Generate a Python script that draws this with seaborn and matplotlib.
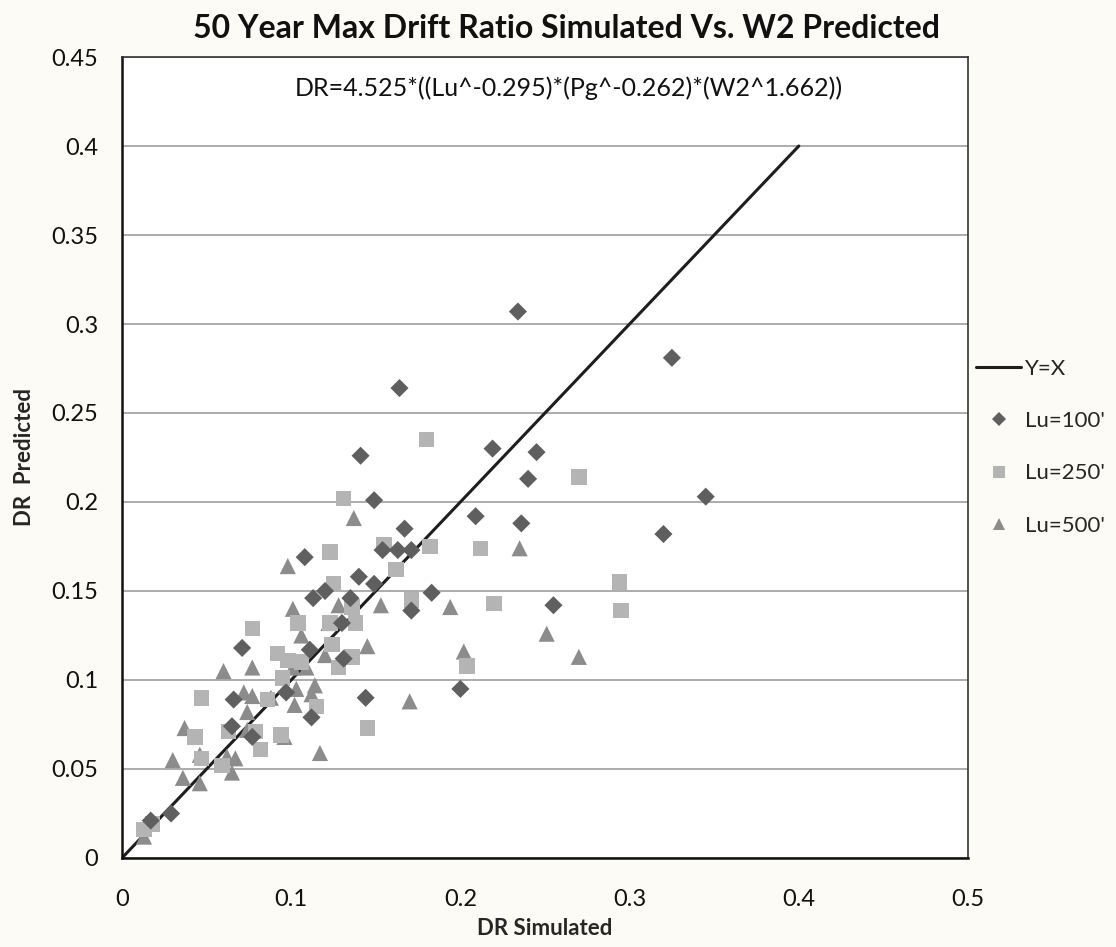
import matplotlib
matplotlib.use("Agg")
import matplotlib.pyplot as plt
import seaborn as sns
import pandas as pd
import numpy as np
from matplotlib.lines import Line2D

# ---------------- data ----------------
lu100_x = [0.164, 0.234, 0.325, 0.141, 0.219, 0.245, 0.240, 0.345, 0.149, 0.209,
           0.236, 0.320, 0.167, 0.154, 0.163, 0.171, 0.108, 0.140, 0.149, 0.120,
           0.113, 0.135, 0.183, 0.171, 0.255, 0.130, 0.111, 0.131, 0.071, 0.097,
           0.066, 0.112, 0.144, 0.200, 0.065, 0.077, 0.029, 0.017]
lu100_y = [0.264, 0.307, 0.281, 0.226, 0.230, 0.228, 0.213, 0.203, 0.201, 0.192,
           0.188, 0.182, 0.185, 0.173, 0.173, 0.173, 0.169, 0.158, 0.154, 0.150,
           0.146, 0.146, 0.149, 0.139, 0.142, 0.132, 0.117, 0.112, 0.118, 0.093,
           0.089, 0.079, 0.090, 0.095, 0.074, 0.068, 0.025, 0.021]

lu250_x = [0.180, 0.270, 0.131, 0.155, 0.182, 0.212, 0.123, 0.162, 0.125, 0.294,
           0.136, 0.171, 0.220, 0.295, 0.104, 0.123, 0.138, 0.077, 0.124, 0.092,
           0.136, 0.098, 0.106, 0.128, 0.204, 0.095, 0.047, 0.086, 0.115, 0.145,
           0.043, 0.063, 0.079, 0.094, 0.082, 0.047, 0.059, 0.018, 0.013]
lu250_y = [0.235, 0.214, 0.202, 0.176, 0.175, 0.174, 0.172, 0.162, 0.154, 0.155,
           0.141, 0.145, 0.143, 0.139, 0.132, 0.132, 0.132, 0.129, 0.120, 0.115,
           0.113, 0.111, 0.110, 0.107, 0.108, 0.101, 0.090, 0.089, 0.085, 0.073,
           0.068, 0.071, 0.071, 0.069, 0.061, 0.056, 0.052, 0.019, 0.016]

lu500_x = [0.137, 0.235, 0.098, 0.128, 0.153, 0.194, 0.101, 0.122, 0.251, 0.106,
           0.145, 0.202, 0.120, 0.270, 0.060, 0.077, 0.101, 0.109, 0.103, 0.114,
           0.112, 0.102, 0.088, 0.072, 0.077, 0.074, 0.170, 0.037, 0.074, 0.096,
           0.117, 0.030, 0.046, 0.062, 0.067, 0.065, 0.036, 0.046, 0.013]
lu500_y = [0.191, 0.174, 0.164, 0.142, 0.142, 0.141, 0.140, 0.132, 0.126, 0.125,
           0.119, 0.116, 0.114, 0.113, 0.105, 0.107, 0.107, 0.107, 0.095, 0.097,
           0.092, 0.086, 0.090, 0.093, 0.091, 0.082, 0.088, 0.073, 0.072, 0.068,
           0.059, 0.055, 0.058, 0.057, 0.056, 0.048, 0.045, 0.042, 0.012]

line_x = [0.0, 0.4]
line_y = [0.0, 0.4]

series_names = ["Lu=100'", "Lu=250'", "Lu=500'"]
x_ticks = [0, 0.1, 0.2, 0.3, 0.4, 0.5]
x_tick_labels = ["0", "0.1", "0.2", "0.3", "0.4", "0.5"]
y_ticks = [0, 0.05, 0.1, 0.15, 0.2, 0.25, 0.3, 0.35, 0.4, 0.45]
y_tick_labels = ["0", "0.05", "0.1", "0.15", "0.2", "0.25", "0.3", "0.35", "0.4", "0.45"]

title = "50 Year Max Drift Ratio Simulated Vs. W2 Predicted"
formula = "DR=4.525*((Lu^-0.295)*(Pg^-0.262)*(W2^1.662))"

# ---------------- plot ----------------
sns.set_theme(style="white")
plt.rcParams['font.family'] = ['Lato', 'DejaVu Sans']

bg = "#FDFBF6"
fig = plt.figure(figsize=(11.16, 9.47), dpi=100, facecolor=bg)
ax = fig.add_axes([0.1093, 0.094, 0.7581, 0.8458])
ax.set_facecolor("white")

df = pd.concat([
    pd.DataFrame({"x": lu100_x, "y": lu100_y, "series": series_names[0]}),
    pd.DataFrame({"x": lu250_x, "y": lu250_y, "series": series_names[1]}),
    pd.DataFrame({"x": lu500_x, "y": lu500_y, "series": series_names[2]}),
], ignore_index=True)

colors = {series_names[0]: "#5F5F5F", series_names[1]: "#B4B4B4", series_names[2]: "#8C8C8C"}
markers = {series_names[0]: "D", series_names[1]: "s", series_names[2]: "^"}
sizes = {series_names[0]: 85, series_names[1]: 125, series_names[2]: 135}

ax.yaxis.grid(True, color="#A6A6A6", linewidth=1.3)
ax.xaxis.grid(False)
ax.set_axisbelow(True)

sns.lineplot(x=line_x, y=line_y, ax=ax, color="#1E1E1E", linewidth=2.2, zorder=2)
for name in series_names[::-1]:
    sub = df[df["series"] == name]
    sns.scatterplot(data=sub, x="x", y="y", ax=ax, color=colors[name],
                    marker=markers[name], s=sizes[name], edgecolor="none",
                    linewidth=0, zorder=3)

ax.set_xlim(0, 0.5)
ax.set_ylim(0, 0.45)
ax.set_xticks(x_ticks)
ax.set_xticklabels(x_tick_labels)
ax.set_yticks(y_ticks)
ax.set_yticklabels(y_tick_labels)
ax.tick_params(axis="x", labelsize=17, length=0, pad=22, colors="#111111")
ax.tick_params(axis="y", labelsize=17, length=0, pad=17, colors="#111111")

for side in ["left", "bottom"]:
    ax.spines[side].set_color("#111111")
    ax.spines[side].set_linewidth(1.8)
for side in ["top", "right"]:
    ax.spines[side].set_color("#333333")
    ax.spines[side].set_linewidth(1.2)

ax.set_xlabel("DR Simulated", fontsize=16, fontweight="bold", labelpad=6)
ax.set_ylabel("DR  Predicted", fontsize=16, fontweight="bold", labelpad=12)
fig.text(0.5075, 0.970, title, ha="center", va="center", fontsize=23,
         fontweight="bold", color="#111111")
ax.text(0.264, 0.4326, formula, ha="center", va="center", fontsize=18,
        color="#111111")

handles = [Line2D([], [], color="#1E1E1E", linewidth=2.2)]
for name in series_names:
    handles.append(Line2D([], [], linestyle="none", marker=markers[name],
                          color=colors[name], markersize=8 if name != series_names[0] else 7,
                          markeredgewidth=0))
labels = ["Y=X"] + series_names
leg = fig.legend(handles, labels, loc="upper left", bbox_to_anchor=(0.857, 0.642),
                 frameon=False, fontsize=16, handlelength=2.0, handletextpad=0.2,
                 labelspacing=1.45)

fig.savefig("out.png", dpi=100, facecolor=bg)
